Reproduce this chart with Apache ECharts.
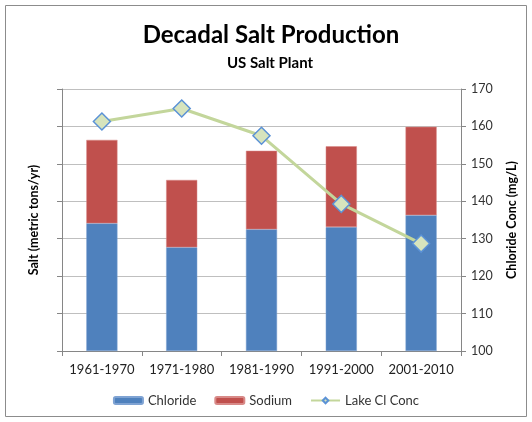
<!DOCTYPE html>
<html>
<head>
<meta charset="utf-8">
<script src="https://cdn.jsdelivr.net/npm/echarts@6/dist/echarts.min.js"></script>
<style>
  html, body { margin: 0; padding: 0; background: #fff; }
  #main { width: 532px; height: 422px; }
</style>
</head>
<body>
<div id="main"></div>
<script>
// decades on the x axis
var categories = ['1961-1970', '1971-1980', '1981-1990', '1991-2000', '2001-2010'];
// salt production, stacked (left axis, no labels shown)
var chloride = [34.1, 27.7, 32.5, 33.1, 36.3];
var sodium = [22.3, 18.0, 21.0, 21.6, 23.6];
// lake chloride concentration (right axis, mg/L)
var lakeCl = [161.3, 164.8, 157.5, 139.3, 128.7];

var font = 'Lato';
var chart = echarts.init(document.getElementById('main'));

var option = {
  animation: false,
  textStyle: { fontFamily: font },
  title: [
    { text: 'Decadal Salt Production', left: 266, top: 18, textAlign: 'center',
      textStyle: { fontSize: 24, fontWeight: 'bold', color: '#000', fontFamily: font } },
    { text: 'US Salt Plant', left: 265, top: 51, textAlign: 'center',
      textStyle: { fontSize: 15, fontWeight: 'bold', color: '#000', fontFamily: font } }
  ],
  graphic: [{
    type: 'rect', shape: { x: 5.5, y: 5.5, width: 521, height: 411 },
    style: { fill: 'none', stroke: '#8c8c8c', lineWidth: 1 }, silent: true
  }],
  legend: {
    bottom: 10, left: 'center', itemWidth: 29, itemHeight: 7, itemGap: 18,
    textStyle: { fontSize: 13, color: '#333', fontFamily: font },
    data: ['Chloride', 'Sodium', 'Lake Cl Conc']
  },
  grid: { left: 62, right: 71, top: 89, bottom: 71 },
  xAxis: {
    type: 'category', data: categories,
    axisLine: { lineStyle: { color: '#868686' } },
    axisTick: { show: true, lineStyle: { color: '#868686' }, length: 5 },
    axisLabel: { interval: 0, hideOverlap: false, fontSize: 13, color: '#222', margin: 12 }
  },
  yAxis: [
    {
      type: 'value', min: 0, max: 70, interval: 10,
      name: 'Salt (metric tons/yr)', nameLocation: 'middle', nameGap: 22,
      nameTextStyle: { fontSize: 12.5, fontWeight: 'bold', color: '#000' },
      axisLine: { show: true, lineStyle: { color: '#868686' } },
      axisTick: { show: true, lineStyle: { color: '#868686' }, length: 5 },
      axisLabel: { show: false },
      splitLine: { lineStyle: { color: '#bfbfbf' } }
    },
    {
      type: 'value', min: 100, max: 170, interval: 10, position: 'right',
      name: 'Chloride Conc (mg/L)', nameLocation: 'middle', nameGap: 44, nameRotate: 90,
      nameTextStyle: { fontSize: 12.5, fontWeight: 'bold', color: '#000' },
      axisLine: { show: true, lineStyle: { color: '#868686' } },
      axisTick: { show: true, lineStyle: { color: '#868686' }, length: 5 },
      axisLabel: { fontSize: 12.5, color: '#333', margin: 10 },
      splitLine: { show: false }
    }
  ],
  series: [
    {
      name: 'Chloride', type: 'bar', stack: 'salt', data: chloride, barWidth: '39%',
      itemStyle: { color: '#4F81BD', borderColor: '#7fa3d3', borderWidth: 0.5 }
    },
    {
      name: 'Sodium', type: 'bar', stack: 'salt', data: sodium, barWidth: '39%',
      itemStyle: { color: '#C0504D', borderColor: '#d88a88', borderWidth: 0.5 }
    },
    {
      name: 'Lake Cl Conc', type: 'line', yAxisIndex: 1, data: lakeCl,
      symbol: 'diamond', symbolSize: 17,
      lineStyle: { color: '#C3D69B', width: 3 },
      itemStyle: { color: '#D7E4BD', borderColor: '#5B92D6', borderWidth: 1.5 }
    }
  ]
};

chart.setOption(option);
</script>
</body>
</html>
